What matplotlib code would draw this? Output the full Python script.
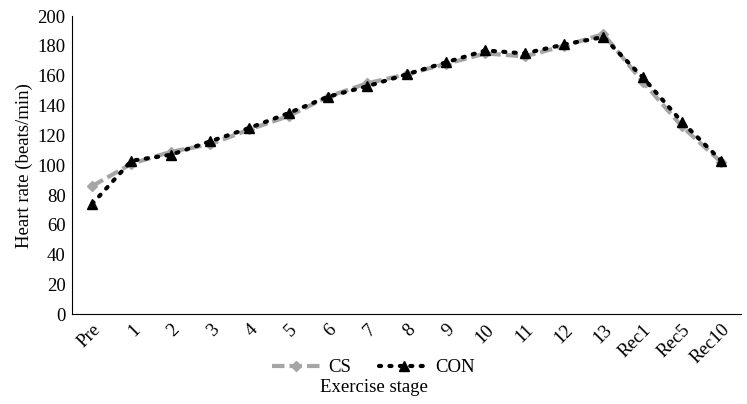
import matplotlib
matplotlib.use("Agg")
import matplotlib.pyplot as plt

stages = ["Pre", "1", "2", "3", "4", "5", "6", "7", "8", "9", "10", "11", "12", "13",
          "Rec1", "Rec5", "Rec10"]
cs = [86, 101, 109, 114, 124, 133, 146, 155, 161, 168, 175, 173, 180, 188, 156, 126, 102]
con = [74, 103, 107, 116, 125, 135, 146, 153, 161, 169, 177, 175, 181, 186, 159, 129, 103]

plt.rcParams["font.family"] = ["Liberation Serif", "DejaVu Serif"]

fig = plt.figure(figsize=(7.47, 4.04), dpi=100)
ax = fig.add_axes([0.097, 0.222, 0.895, 0.738])

x = list(range(len(stages)))
ax.plot(x, cs, color="#a6a6a6", linestyle=(0, (3, 1.2)), linewidth=3,
        marker="D", markersize=5, label="CS")
ax.plot(x, con, color="black", linestyle=(0, (0.5, 2.0)), linewidth=3,
        dash_capstyle="round", marker="^", markersize=7, label="CON")

ax.set_xlim(-0.5, len(stages) - 0.5)
ax.set_ylim(0, 200)
ax.set_yticks(range(0, 201, 20))
ax.set_xticks(x)
ax.set_xticklabels(stages, rotation=45, ha="right", rotation_mode="anchor")
ax.tick_params(axis="both", length=0, labelsize=13.5)
ax.tick_params(axis="x", pad=5)
ax.tick_params(axis="y", pad=5)
ax.spines["top"].set_visible(False)
ax.spines["right"].set_visible(False)
ax.spines["left"].set_color("black")
ax.spines["bottom"].set_color("black")
ax.set_ylabel("Heart rate (beats/min)", fontsize=13.5, labelpad=3)

fig.legend(loc="lower center", bbox_to_anchor=(0.5, 0.045), ncol=2, frameon=False,
           fontsize=13.5, handlelength=2.6, columnspacing=1.5, handletextpad=0.4,
           borderpad=0)
fig.text(0.5, 0.03, "Exercise stage", ha="center", fontsize=13.5)

fig.savefig("out.png", dpi=100)
